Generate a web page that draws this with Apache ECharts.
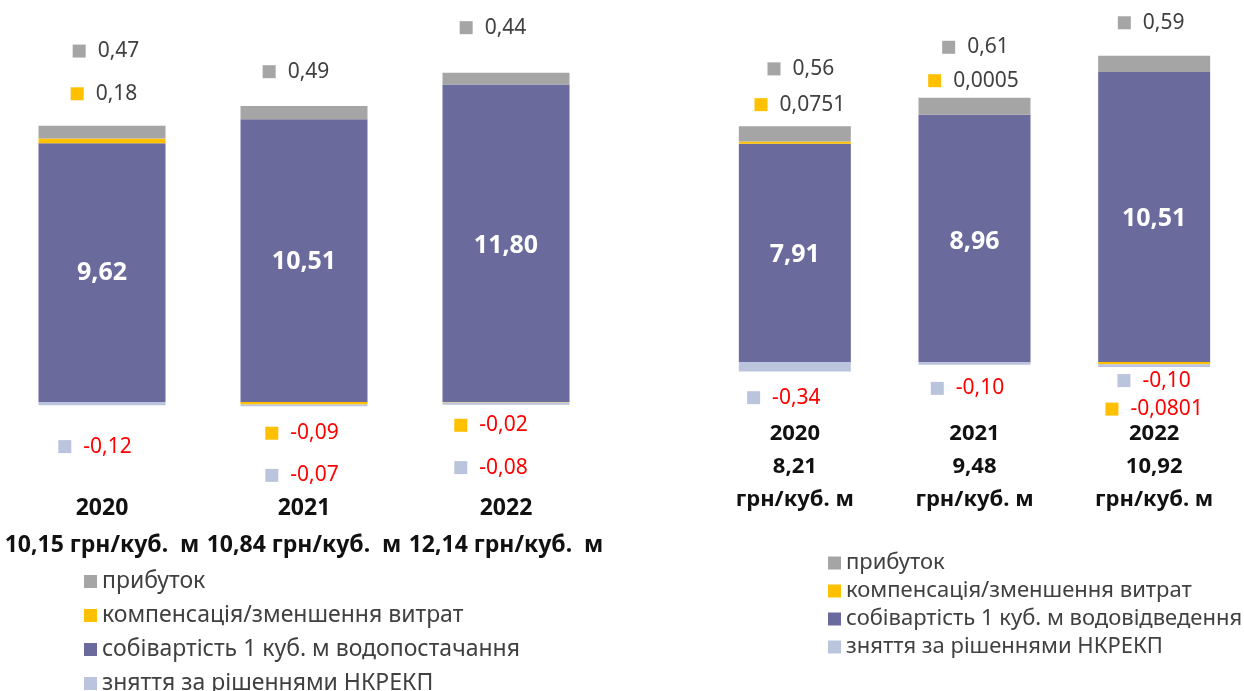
<!DOCTYPE html>
<html>
<head>
<meta charset="utf-8">
<script src="https://cdn.jsdelivr.net/npm/echarts@6/dist/echarts.min.js"></script>
<style>
  html, body { margin: 0; padding: 0; background: #fff; }
  #main { width: 1244px; height: 691px; }
</style>
</head>
<body>
<div id="main"></div>
<script>
  const years = ['2020', '2021', '2022']

  // водопостачання (left)
  const supplyTotals = ['10,15', '10,84', '12,14']
  const supplyCost = [9.62, 10.51, 11.80]
  const supplyComp = [0.18, -0.09, -0.02]
  const supplyProfit = [0.47, 0.49, 0.44]
  const supplyCut = [-0.12, -0.07, -0.08]

  // водовідведення (right)
  const drainTotals = ['8,21', '9,48', '10,92']
  const drainCost = [7.91, 8.96, 10.51]
  const drainComp = [0.0751, 0.0005, -0.0801]
  const drainProfit = [0.56, 0.61, 0.59]
  const drainCut = [-0.34, -0.10, -0.10]

  const nameProfit = 'прибуток'
  const nameComp = 'компенсація/зменшення витрат'
  const nameSupply = 'собівартість 1 куб. м водопостачання'
  const nameDrain = 'собівартість 1 куб. м водовідведення'
  const nameCut = 'зняття за рішеннями НКРЕКП'

  // label nudges (px from segment centre), to mimic the hand placed excel labels
  const supplyNudge = {
    cost: [[0, 0], [0, 1], [0, 3]],
    comp: [[2, -47], [-2, 30], [-15, 23]],
    profit: [[4, -81], [-8, -41], [-13, -51]],
    cut: [[-7, 43], [-2, 70], [-15, 64]]
  }
  const drainNudge = {
    cost: [[0, 2], [0, 4], [0, 2]],
    comp: [[5, -38], [-1, -34], [0, 46]],
    profit: [[6, -65], [1, -59], [-3, -41]],
    cut: [[-11, 31], [-7, 25], [0, 15]]
  }

  const FONT = 'Noto Sans'
  const colors = {
    profit: '#A5A5A5',
    comp: '#FFC000',
    cost: '#6A6A9D',
    cut: '#BAC4DC'
  }

  function fmt(v) {
    const dec = Math.max(2, (String(v).split('.')[1] || '').length)
    return v.toFixed(dec).replace('.', ',')
  }

  function keyLabel(color) {
    return {
      show: true,
      position: 'inside',
      formatter: p => '{k|}{' + (p.value < 0 ? 'n' : 'p') + '|' + fmt(p.value) + '}',
      rich: {
        k: { width: 13, height: 13, backgroundColor: color, verticalAlign: 'middle' },
        p: { fontFamily: FONT, fontSize: 21, color: '#404040', padding: [0, 0, 0, 12], verticalAlign: 'middle' },
        n: { fontFamily: FONT, fontSize: 21, color: '#FF0000', padding: [0, 0, 0, 12], verticalAlign: 'middle' }
      }
    }
  }

  function costLabel() {
    return {
      show: true,
      position: 'inside',
      formatter: p => fmt(p.value),
      fontFamily: FONT,
      fontSize: 25,
      fontWeight: 'bold',
      color: '#fff'
    }
  }

  function bar(name, values, nudge, color, idx, barWidth, label) {
    return {
      type: 'bar',
      name: name,
      stack: 'total' + idx,
      xAxisIndex: idx,
      yAxisIndex: idx,
      barWidth: barWidth,
      itemStyle: { color: color },
      label: label,
      emphasis: { disabled: true },
      data: values.map((v, i) => ({ value: v, label: { offset: nudge[i] } }))
    }
  }

  function formatSeries(cost, comp, profit, cut, nudge, costName, idx, barWidth) {
    return [
      bar(costName, cost, nudge.cost, colors.cost, idx, barWidth, costLabel()),
      bar(nameComp, comp, nudge.comp, colors.comp, idx, barWidth, keyLabel(colors.comp)),
      bar(nameProfit, profit, nudge.profit, colors.profit, idx, barWidth, keyLabel(colors.profit)),
      bar(nameCut, cut, nudge.cut, colors.cut, idx, barWidth, keyLabel(colors.cut))
    ]
  }

  const catStyle = { fontFamily: FONT, fontWeight: 'bold', color: '#111' }

  const chart = echarts.init(document.getElementById('main'))
  const option = {
    animation: false,
    grid: [
      { left: 1, width: 606, top: 25.4, height: 457.3 },
      { left: 705, width: 547, top: 30.8, height: 386.4 }
    ],
    xAxis: [
      {
        type: 'category', gridIndex: 0, data: years,
        axisLine: { show: false, onZero: false }, axisTick: { show: false },
        axisLabel: {
          margin: 7, interval: 0, fontSize: 23, lineHeight: 37, ...catStyle,
          formatter: (v, i) => v + '\n' + supplyTotals[i] + ' грн/куб.  м'
        }
      },
      {
        type: 'category', gridIndex: 1, data: years,
        axisLine: { show: false, onZero: false }, axisTick: { show: false },
        axisLabel: {
          margin: 0, interval: 0, fontSize: 22, lineHeight: 33, ...catStyle,
          formatter: (v, i) => v + '\n' + drainTotals[i] + '\nгрн/куб. м'
        }
      }
    ],
    yAxis: [
      { type: 'value', gridIndex: 0, min: -3, max: 14, show: false, splitLine: { show: false } },
      { type: 'value', gridIndex: 1, min: -2, max: 12, show: false, splitLine: { show: false } }
    ],
    legend: [
      {
        orient: 'vertical', left: 84, top: 570, height: 200, padding: 0, itemGap: 11,
        itemWidth: 13, itemHeight: 13, icon: 'rect', selectedMode: false,
        textStyle: { fontFamily: FONT, fontSize: 23, color: '#404040' },
        data: [nameProfit, nameComp, nameSupply, nameCut]
      },
      {
        orient: 'vertical', left: 828, top: 552, height: 200, padding: 0, itemGap: 6,
        itemWidth: 13, itemHeight: 13, icon: 'rect', selectedMode: false,
        textStyle: { fontFamily: FONT, fontSize: 22, color: '#404040' },
        data: [nameProfit, nameComp, nameDrain, nameCut]
      }
    ],
    series: [
      ...formatSeries(supplyCost, supplyComp, supplyProfit, supplyCut, supplyNudge, nameSupply, 0, 127),
      ...formatSeries(drainCost, drainComp, drainProfit, drainCut, drainNudge, nameDrain, 1, 112)
    ]
  }
  chart.setOption(option)
</script>
</body>
</html>
